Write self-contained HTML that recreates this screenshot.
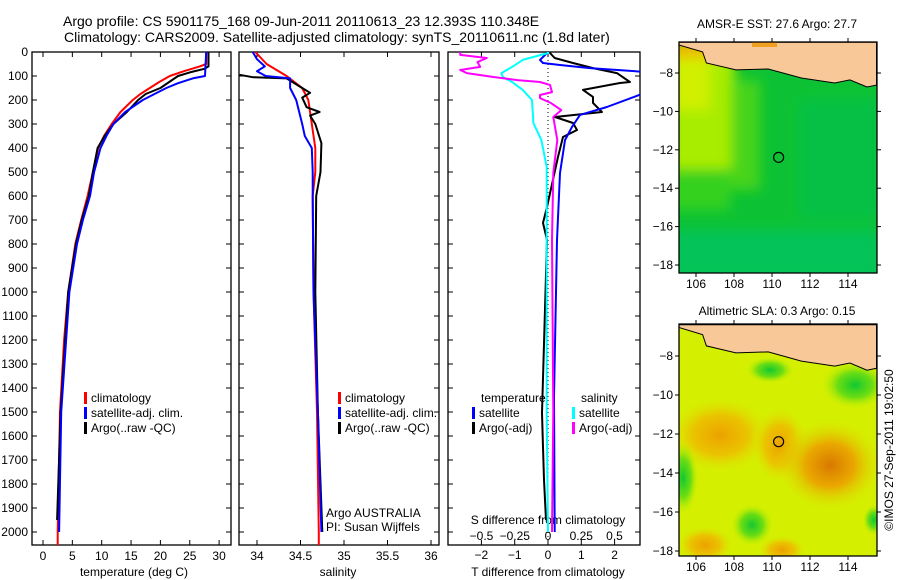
<!DOCTYPE html>
<html><head><meta charset="utf-8">
<style>
html,body{margin:0;padding:0;background:#fff;}
svg{display:block;font-family:"Liberation Sans",sans-serif;}
</style></head>
<body>
<svg id="fig" width="900" height="580" viewBox="0 0 900 580">
<defs>
<radialGradient id="gOr" cx="50%" cy="50%" r="50%"><stop offset="0" stop-color="#d87800"/><stop offset="0.45" stop-color="#eca000" stop-opacity="0.9"/><stop offset="1" stop-color="#d8f000" stop-opacity="0"/></radialGradient>
<radialGradient id="gOr2" cx="50%" cy="50%" r="50%"><stop offset="0" stop-color="#eca000"/><stop offset="0.5" stop-color="#f0b800" stop-opacity="0.8"/><stop offset="1" stop-color="#d8f000" stop-opacity="0"/></radialGradient>
<radialGradient id="gGr" cx="50%" cy="50%" r="50%"><stop offset="0" stop-color="#10c830"/><stop offset="0.5" stop-color="#50d818" stop-opacity="0.8"/><stop offset="1" stop-color="#d8f000" stop-opacity="0"/></radialGradient>
<radialGradient id="gYg" cx="50%" cy="50%" r="50%"><stop offset="0" stop-color="#b0ec00"/><stop offset="0.6" stop-color="#90e400" stop-opacity="0.8"/><stop offset="1" stop-color="#30cc20" stop-opacity="0"/></radialGradient>
<radialGradient id="gTeal" cx="50%" cy="50%" r="50%"><stop offset="0" stop-color="#00c070"/><stop offset="1" stop-color="#00c040" stop-opacity="0"/></radialGradient>
<filter id="blur"><feGaussianBlur stdDeviation="6"/></filter>
<clipPath id="c1"><rect x="32" y="52" width="199" height="493"/></clipPath>
<clipPath id="c2"><rect x="239" y="52" width="200" height="493"/></clipPath>
<clipPath id="c3"><rect x="448" y="52" width="192" height="493"/></clipPath>
<clipPath id="cm1"><rect x="679" y="42" width="198" height="231"/></clipPath>
<clipPath id="cm2"><rect x="679" y="324" width="198" height="232"/></clipPath>
</defs>
<g id="root"></g>
</svg>
<script>
// ---- data ----
const depthTempClim = [0,50,60,80,100,125,150,175,200,250,300,350,400,500,600,700,800,900,1000,1200,1500,2000,2054];
const tempClim = [27.8,27.8,26.7,24,21.6,19.8,18.2,16.6,15.3,13.2,11.7,10.4,9.4,8.5,7.6,6.5,5.5,4.9,4.3,3.6,2.9,2.5,2.5];
const depthTempSat = [0,100,110,130,150,175,200,250,300,350,400,500,600,700,800,1000,1500,2000];
const tempSat = [27.8,27.6,25.5,23,21,19,17,14,12,10.8,9.8,8.7,8.0,6.8,5.8,4.5,3.1,2.75];
const depthTempArgo = [0,60,70,85,100,125,150,175,200,250,300,350,400,500,600,700,800,1000,1500,1950];
const tempArgo = [28.2,28.2,27.5,25,23,21.5,20,17.5,16.2,14.3,12,10.5,9.3,8.5,7.8,6.6,5.6,4.3,3.0,2.4];

const depthSalClim = [0,50,100,150,200,300,400,500,600,1000,1500,2000,2054];
const salClim = [33.98,34.11,34.34,34.52,34.59,34.63,34.67,34.67,34.64,34.65,34.69,34.71,34.71];
const depthSalSat = [0,30,60,80,100,110,150,200,300,350,400,500,600,1000,1500,2000];
const salSat = [33.95,34.0,34.09,34.0,34.1,34.38,34.38,34.45,34.52,34.55,34.63,34.64,34.64,34.65,34.7,34.74];
const depthSalArgo = [95,105,110,150,170,190,230,250,265,300,380,500,600,1000,1500,2000];
const salArgo = [33.8,33.95,34.34,34.52,34.61,34.52,34.57,34.72,34.61,34.67,34.74,34.73,34.68,34.67,34.7,34.75];

const depthDT_sat = [0,33,46,54,67,83,171,229,262,312,367,504,783,1437,2000];
const dT_sat = [0,-0.24,-0.15,0.36,1.26,2.9,2.9,1.77,0.96,0.72,0.51,0.36,0.27,0.18,0.2];
const depthDT_argo = [0,4,25,46,67,88,125,129,158,187,212,250,271,296,325,354,437,646,712,783,1504,1646,1783,1950];
const dT_argo = [0.06,0.06,0.2,0.75,1.35,2.07,2.46,2.16,1.05,1.35,1.35,1.62,0.21,0.75,0.87,0.45,0.3,-0.03,-0.15,-0.03,-0.18,-0.15,-0.12,-0.06];
const depthDS_argo = [0,12,25,42,62,75,88,104,117,125,137,167,179,192,212,242,271,367,504,783,1500,2000];
const dS_argo = [-0.66,-0.66,-0.46,-0.53,-0.51,-0.66,-0.61,-0.41,-0.23,-0.06,0.015,0.03,-0.06,-0.06,0.02,0.1,0.04,0.07,0.04,0.03,0.04,0.03];
const depthDS_sat = [0,4,33,62,88,104,125,158,200,296,367,479,783,1500,2000];
const dS_sat = [0,0,-0.19,-0.27,-0.35,-0.34,-0.27,-0.19,-0.12,-0.11,-0.05,-0.01,-0.01,-0.01,0];

const depthTicks = [0,100,200,300,400,500,600,700,800,900,1000,1100,1200,1300,1400,1500,1600,1700,1800,1900,2000];
const tempTicks = [0,5,10,15,20,25,30];
const salTicks = [34,34.5,35,35.5,36];
const dTTicks = [-2,-1,0,1,2];
const dSTicks = [-0.5,-0.25,0,0.25,0.5];
const dSTickLabels = ["-0.5","-0.25","0","0.25","0.5"];
const lonTicks = [106,108,110,112,114];
const latTicks = [-8,-10,-12,-14,-16,-18];
const argoLon = 110.348, argoLat = -12.393;

// ---- scales ----
const yD = d => 52 + d*0.24;
const xT = t => 43 + t*5.87;
const xS = s => 257 + (s-34)*87;
const xDT = v => 548 + v*33.3;
const xDS = v => 548 + v*133;
const m1X = lon => 696 + (lon-106)*19;
const m1Y = lat => 73 + (-8-lat)*19.2;
const m2Y = lat => 356 + (-8-lat)*19.5;

const NS="http://www.w3.org/2000/svg";
const root=document.getElementById('root');
function el(tag,attrs,parent,text){const e=document.createElementNS(NS,tag);for(const k in attrs)e.setAttribute(k,attrs[k]);if(text!==undefined)e.textContent=text;(parent||root).appendChild(e);return e;}
function txt(x,y,s,anchor,size,parent){const t=el('text',{x:x,y:y,'font-size':size||12,'text-anchor':anchor||'start',fill:'#000'},parent,s);return t;}

let t1=txt(63,26,"Argo profile: CS 5901175_168 09-Jun-2011 20110613_23 12.393S 110.348E",'start',14);


let t2=txt(64,42,"Climatology: CARS2009. Satellite-adjusted climatology: synTS_20110611.nc (1.8d later)",'start',14);



function panel(x0,x1,name){const r=el('rect',{x:x0,y:52,width:x1-x0,height:493,fill:'#fff',stroke:'#000','stroke-width':1.3});


return r;}
panel(32,231,'temperature-panel');panel(239,439,'salinity-panel');panel(448,640,'difference-panel');

depthTicks.forEach(d=>{const y=yD(d);
 el('line',{x1:32,y1:y,x2:37,y2:y,stroke:'#000'});el('line',{x1:226,y1:y,x2:231,y2:y,stroke:'#000'});
 el('line',{x1:239,y1:y,x2:244,y2:y,stroke:'#000'});el('line',{x1:434,y1:y,x2:439,y2:y,stroke:'#000'});
 el('line',{x1:448,y1:y,x2:453,y2:y,stroke:'#000'});el('line',{x1:635,y1:y,x2:640,y2:y,stroke:'#000'});
 const l=txt(28,y+4,String(d),'end',12);
 
 
});
tempTicks.forEach(v=>{const x=xT(v);el('line',{x1:x,y1:545,x2:x,y2:540,stroke:'#000'});el('line',{x1:x,y1:52,x2:x,y2:57,stroke:'#000'});
 const l=txt(x,560,String(v),'middle',12);});
salTicks.forEach(v=>{const x=xS(v);el('line',{x1:x,y1:545,x2:x,y2:540,stroke:'#000'});el('line',{x1:x,y1:52,x2:x,y2:57,stroke:'#000'});
 const l=txt(x,560,String(v),'middle',12);});
dTTicks.forEach(v=>{const x=xDT(v);el('line',{x1:x,y1:545,x2:x,y2:540,stroke:'#000'});el('line',{x1:x,y1:52,x2:x,y2:57,stroke:'#000'});
 const l=txt(x,559,String(v).replace('-','\u2212'),'middle',12);});
dSTicks.forEach((v,i)=>{const l=txt(xDS(v),540,dSTickLabels[i].replace('-','\u2212'),'middle',12);});

let a;
a=txt(134,576,'temperature (deg C)','middle',12);
a=txt(338,576,'salinity','middle',12);
a=txt(548,576,'T difference from climatology','middle',12);
a=txt(548,524,'S difference from climatology','middle',12);

el('line',{x1:548,y1:52,x2:548,y2:545,stroke:'#000','stroke-dasharray':'1,3'});

function series(depths,vals,xf,color,clip,name){
 const pts=depths.map((d,i)=>xf(vals[i]).toFixed(1)+','+yD(d).toFixed(1)).join(' ');
 const p=el('polyline',{points:pts,fill:'none',stroke:color,'stroke-width':2,'stroke-linejoin':'round','clip-path':'url(#'+clip+')'});
 
 
}
series(depthTempClim,tempClim,xT,'#ff0000','c1','temp-climatology-line');
series(depthTempArgo,tempArgo,xT,'#000','c1','temp-argo-line');
series(depthTempSat,tempSat,xT,'#0000ff','c1','temp-satellite-line');
series(depthSalClim,salClim,xS,'#ff0000','c2','sal-climatology-line');
series(depthSalArgo,salArgo,xS,'#000','c2','sal-argo-line');
series(depthSalSat,salSat,xS,'#0000ff','c2','sal-satellite-line');
series(depthDT_argo,dT_argo,xDT,'#000','c3','t-diff-argo-line');
series(depthDT_sat,dT_sat,xDT,'#0000ff','c3','t-diff-satellite-line');
series(depthDS_sat,dS_sat,xDS,'#00ffff','c3','s-diff-satellite-line');
series(depthDS_argo,dS_argo,xDS,'#ff00ff','c3','s-diff-argo-line');

function legend(x,y,color,label,name){
 el('rect',{x:x,y:y-10,width:3,height:12,fill:color});
 const t=txt(x+7,y,label,'start',12);
 
 
}
legend(84,402,'#ff0000','climatology','legend-climatology');
legend(84,417,'#0000ff','satellite-adj. clim.','legend-satellite-adj');
legend(84,432,'#000','Argo(..raw -QC)','legend-argo');
legend(338,402,'#ff0000','climatology','legend-climatology-2');
legend(338,417,'#0000ff','satellite-adj. clim.','legend-satellite-adj-2');
legend(338,432,'#000','Argo(..raw -QC)','legend-argo-2');
a=txt(481,402,'temperature','start',12);
legend(472,417,'#0000ff','satellite','legend-t-satellite');
legend(472,432,'#000','Argo(-adj)','legend-t-argo');
a=txt(581,402,'salinity','start',12);
legend(572,417,'#00ffff','satellite','legend-s-satellite');
legend(572,432,'#ff00ff','Argo(-adj)','legend-s-argo');
a=txt(326,517,'Argo AUSTRALIA','start',12);
a=txt(326,531,'PI: Susan Wijffels','start',12);

// ---- maps ----
function landPoly(yf){
 const coast=[[105.1,-6.4],[105.1,-6.54],[106.35,-6.9],[106.55,-7.48],[108.1,-7.84],[109.8,-7.79],[111.55,-8.26],[113.3,-8.52],[114.1,-8.36],[115.0,-8.73],[115.5,-8.63],[115.5,-6.4]];
 return coast.map(p=>m1X(p[0]).toFixed(1)+','+yf(p[1]).toFixed(1)).join(' ');
}
const g1=el('g',{'clip-path':'url(#cm1)'});


el('rect',{x:679,y:42,width:198,height:231,fill:'#0cc234'},g1);
const gb=el('g',{filter:'url(#blur)'},g1);
el('rect',{x:670,y:40,width:65,height:130,fill:'#a8ec00'},gb);
el('rect',{x:670,y:40,width:40,height:70,fill:'#d0f000'},gb);
el('rect',{x:730,y:80,width:30,height:110,fill:'#60dc10',opacity:0.7},gb);
el('rect',{x:670,y:170,width:60,height:40,fill:'#40d418',opacity:0.8},gb);
el('rect',{x:800,y:100,width:80,height:120,fill:'#00c050',opacity:0.6},gb);
el('rect',{x:670,y:230,width:210,height:50,fill:'#00c468',opacity:0.7},gb);
el('rect',{x:670,y:40,width:210,height:18,fill:'#f0b800'},gb);
el('polygon',{points:landPoly(m1Y),fill:'#f9c898',stroke:'#000','stroke-width':1},g1);
el('rect',{x:752,y:42,width:25,height:5,fill:'#f0a020'},g1);
el('rect',{x:679,y:42,width:198,height:231,fill:'none',stroke:'#000','stroke-width':1.3});

const g2=el('g',{'clip-path':'url(#cm2)'});


el('rect',{x:679,y:324,width:198,height:232,fill:'#d4f000'},g2);
el('ellipse',{cx:720,cy:435,rx:55,ry:40,fill:'url(#gOr2)'},g2);
el('ellipse',{cx:780,cy:445,rx:30,ry:40,fill:'url(#gOr2)'},g2);
el('ellipse',{cx:830,cy:465,rx:55,ry:48,fill:'url(#gOr)'},g2);
el('ellipse',{cx:705,cy:545,rx:30,ry:20,fill:'url(#gOr2)'},g2);
el('ellipse',{cx:782,cy:550,rx:25,ry:15,fill:'url(#gOr2)'},g2);
el('ellipse',{cx:683,cy:478,rx:16,ry:38,fill:'url(#gGr)'},g2);
el('ellipse',{cx:855,cy:385,rx:35,ry:25,fill:'url(#gGr)'},g2);
el('ellipse',{cx:752,cy:525,rx:22,ry:22,fill:'url(#gGr)'},g2);
el('ellipse',{cx:770,cy:370,rx:25,ry:14,fill:'url(#gGr)'},g2);
el('ellipse',{cx:874,cy:520,rx:12,ry:16,fill:'url(#gGr)'},g2);
el('polygon',{points:landPoly(m2Y),fill:'#f9c898',stroke:'#000','stroke-width':1},g2);
el('rect',{x:679,y:324,width:198,height:232,fill:'none',stroke:'#000','stroke-width':1.3});

[[m1Y,42,273],[m2Y,324,556]].forEach(([yf,top,bot])=>{
 lonTicks.forEach(v=>{const x=m1X(v);el('line',{x1:x,y1:bot,x2:x,y2:bot+4,stroke:'#000'});el('line',{x1:x,y1:top,x2:x,y2:top-4,stroke:'#000'});
  const l=txt(x,bot+15,String(v),'middle',12);});
 latTicks.forEach(v=>{const y=yf(v);el('line',{x1:675,y1:y,x2:679,y2:y,stroke:'#000'});el('line',{x1:877,y1:y,x2:881,y2:y,stroke:'#000'});
  const l=txt(673,y+4,String(v).replace('-','\u2212'),'end',12);});
 const c=el('circle',{cx:m1X(argoLon),cy:yf(argoLat),r:5,fill:'none',stroke:'#000','stroke-width':1.2});
 
 
});
a=txt(777,28,'AMSR-E SST: 27.6 Argo: 27.7','middle',12);
a=txt(777,315,'Altimetric SLA: 0.3 Argo: 0.15','middle',12);
a=txt(0,0,'\u00A9IMOS 27-Sep-2011 19:02:50','middle',12);
a.setAttribute('transform','translate(893,450) rotate(-90)');


</script>
</body></html>
